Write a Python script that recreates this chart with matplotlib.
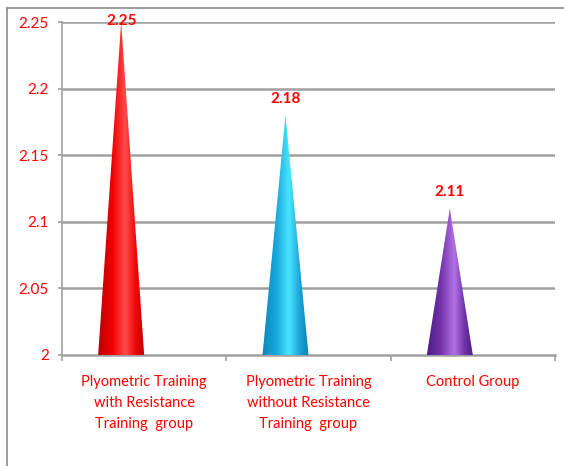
import numpy as np
import matplotlib
matplotlib.use("Agg")
import matplotlib.pyplot as plt
from matplotlib.patches import Polygon
from matplotlib.colors import LinearSegmentedColormap

plt.rcParams['font.family'] = ['Lato', 'DejaVu Sans']

categories = [
    "Plyometric Training\nwith Resistance\nTraining  group",
    "Plyometric Training\nwithout Resistance\nTraining  group",
    "Control Group",
]
values = [2.25, 2.18, 2.11]
y_ticks = [2, 2.05, 2.1, 2.15, 2.2, 2.25]
y_tick_labels = ["2", "2.05", "2.1", "2.15", "2.2", "2.25"]

# shading stops (edge, body, highlight, body, edge) for each cone
cone_shades = [
    ["#b80000", "#f00000", "#ff4a4a", "#f00808", "#c00000"],
    ["#0b86b8", "#18a8dc", "#4ae4ff", "#1aa6d8", "#0a7fb0"],
    ["#4e1a86", "#7234aa", "#b272e6", "#7034a8", "#4c1a84"],
]

W, H = 564, 466
fig = plt.figure(figsize=(W / 100, H / 100), dpi=100)
fig.patch.set_facecolor("white")

# outer chart border (left and top edges)
fig.add_artist(plt.Line2D([7 / W, 7 / W], [0, 1 - 7.5 / H],
                          transform=fig.transFigure, color="#8c8c8c", lw=1.2))
fig.add_artist(plt.Line2D([7 / W, 1], [1 - 7.5 / H, 1 - 7.5 / H],
                          transform=fig.transFigure, color="#8c8c8c", lw=1.2))

ax = fig.add_axes([62 / W, 1 - 355 / H, (555 - 62) / W, (355 - 22) / H])
ax.set_xlim(0, 3)
ax.set_ylim(2, 2.25)

for yv in y_ticks[1:]:
    ax.axhline(yv, color="#a0a0a0", lw=1.8, zorder=1)

for s in ["top", "right"]:
    ax.spines[s].set_visible(False)
ax.spines["left"].set_color("#a0a0a0")
ax.spines["left"].set_linewidth(1.2)
ax.spines["bottom"].set_color("#a0a0a0")
ax.spines["bottom"].set_linewidth(1.8)

ax.set_yticks(y_ticks)
ax.set_yticklabels(y_tick_labels)
ax.tick_params(axis="y", colors="#a0a0a0", labelcolor="#ff0000",
               length=3, width=1.2, labelsize=11, pad=6.5)
ax.set_xticks([0, 1, 2, 3])
ax.set_xticklabels([])
ax.tick_params(axis="x", colors="#a0a0a0", length=4, width=1.2)

for i, cat in enumerate(categories):
    ax.text(i + 0.5, -0.06, cat, transform=ax.get_xaxis_transform(),
            ha="center", va="top", color="#ff0000", fontsize=10.5,
            linespacing=1.62)

half_w = 0.14
offset = -0.14
label_top_px = H - 21  # highest centre a value label may sit at
for i, (v, shades) in enumerate(zip(values, cone_shades)):
    cx = i + 0.5 + offset
    cmap = LinearSegmentedColormap.from_list(
        f"cone{i}", list(zip([0, 0.3, 0.58, 0.8, 1.0], shades)))
    grad = np.linspace(0, 1, 256)[None, :]
    im = ax.imshow(grad, cmap=cmap, aspect="auto",
                   extent=[cx - half_w, cx + half_w, 2, v],
                   origin="lower", zorder=3, interpolation="bilinear")
    tri = Polygon([[cx - half_w, 2], [cx + half_w, 2], [cx, v]],
                  closed=True, transform=ax.transData, facecolor="none",
                  edgecolor="none")
    ax.add_patch(tri)
    im.set_clip_path(tri)

    apex_px = ax.transData.transform((cx, v))[1]
    centre_px = min(apex_px + 16, label_top_px)
    ax.annotate(f"{v:.2f}", xy=(cx, v), xytext=(0, (centre_px - apex_px) * 0.72),
                textcoords="offset points", ha="center", va="center",
                color="#ff0000", fontsize=11, fontweight="bold",
                zorder=5, annotation_clip=False)

ax.set_xlim(0, 3)
ax.set_ylim(2, 2.25)

fig.savefig("out.png", dpi=100, facecolor="white")
